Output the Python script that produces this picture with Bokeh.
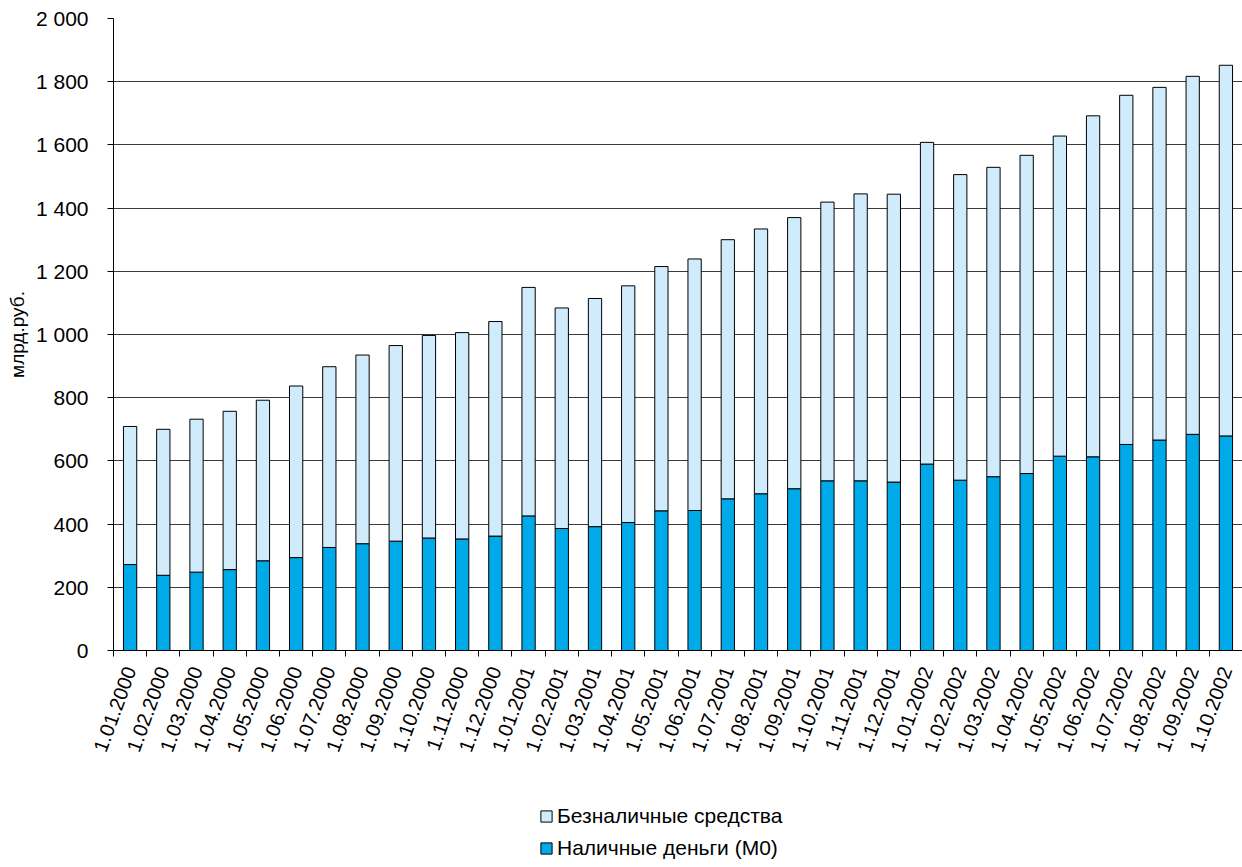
from bokeh.plotting import figure
from bokeh.models import ColumnDataSource, FixedTicker, Legend, LegendItem, Range1d
from bokeh.layouts import column
from bokeh.embed import file_html
from bokeh.resources import INLINE

dates = ["1.01.2000", "1.02.2000", "1.03.2000", "1.04.2000", "1.05.2000", "1.06.2000",
         "1.07.2000", "1.08.2000", "1.09.2000", "1.10.2000", "1.11.2000", "1.12.2000",
         "1.01.2001", "1.02.2001", "1.03.2001", "1.04.2001", "1.05.2001", "1.06.2001",
         "1.07.2001", "1.08.2001", "1.09.2001", "1.10.2001", "1.11.2001", "1.12.2001",
         "1.01.2002", "1.02.2002", "1.03.2002", "1.04.2002", "1.05.2002", "1.06.2002",
         "1.07.2002", "1.08.2002", "1.09.2002", "1.10.2002"]

m0 = [272, 238, 248, 256, 284, 294, 326, 338, 346, 356, 353, 362,
      426, 386, 392, 405, 442, 443, 480, 496, 512, 537, 537, 533,
      590, 539, 550, 560, 615, 613, 652, 666, 684, 679]

total = [709, 700, 732, 757, 792, 837, 898, 935, 965, 997, 1006, 1041,
         1149, 1084, 1114, 1154, 1215, 1239, 1300, 1334, 1370, 1419, 1445, 1444,
         1608, 1506, 1529, 1567, 1628, 1692, 1757, 1782, 1817, 1852]

noncash = [t - m for t, m in zip(total, m0)]

series_names = ["Безналичные средства", "Наличные деньги (M0)"]

y_ticks = list(range(0, 2001, 200))
y_labels = {t: (f"{t // 1000}\u00a0{t % 1000:03d}" if t >= 1000 else str(t)) for t in y_ticks}

FONT = "Liberation Sans"
LIGHT = "#CFEBFC"
DARK = "#00A9E8"
n = len(dates)
xs = [i + 0.5 for i in range(n)]

src = ColumnDataSource(dict(x=xs, m0=m0, total=total, zero=[0] * n))

p = figure(width=1242, height=790, output_backend="svg", toolbar_location=None,
           x_range=Range1d(0, n), y_range=Range1d(0, 2000),
           min_border_left=113, min_border_right=0, min_border_top=18, min_border_bottom=140)
p.outline_line_color = None
p.background_fill_color = "white"
p.border_fill_color = "white"

r_m0 = p.vbar(x="x", width=0.4, bottom="zero", top="m0", source=src,
              fill_color=DARK, line_color="black", line_width=1)
r_nc = p.vbar(x="x", width=0.4, bottom="m0", top="total", source=src,
              fill_color=LIGHT, line_color="black", line_width=1)

# x axis: labels at centers, ticks at category boundaries
p.xaxis.ticker = FixedTicker(ticks=xs, minor_ticks=list(range(n + 1)))
p.xaxis.major_label_overrides = {x: d for x, d in zip(xs, dates)}
p.xaxis.major_tick_line_color = None
p.xaxis.minor_tick_line_color = "black"
p.xaxis.minor_tick_out = 6
p.xaxis.minor_tick_in = 0
p.xaxis.axis_line_color = "black"
p.xaxis.major_label_orientation = 1.22
p.xaxis.major_label_text_font = FONT
p.xaxis.major_label_text_font_size = "20px"
p.xaxis.major_label_text_color = "black"
p.xaxis.major_label_standoff = 11

p.yaxis.ticker = FixedTicker(ticks=y_ticks)
p.yaxis.major_label_overrides = y_labels
p.yaxis.minor_tick_line_color = None
p.yaxis.major_tick_out = 6
p.yaxis.major_tick_in = 0
p.yaxis.major_tick_line_color = "black"
p.yaxis.axis_line_color = "black"
p.yaxis.major_label_text_font = FONT
p.yaxis.major_label_text_font_size = "21px"
p.yaxis.major_label_text_color = "black"
p.yaxis.major_label_standoff = 19
p.yaxis.axis_label = "млрд.руб."
p.yaxis.axis_label_text_font = FONT
p.yaxis.axis_label_text_font_size = "19px"
p.yaxis.axis_label_text_font_style = "normal"
p.yaxis.axis_label_text_color = "black"
p.yaxis.axis_label_standoff = 5

p.xgrid.grid_line_color = None
p.ygrid.grid_line_color = "#3a3a3a"
p.ygrid.grid_line_width = 1

# legend strip below the chart (its frame is aligned with the chart's frame)
p2 = figure(width=1242, height=77, output_backend="svg", toolbar_location=None,
            min_border=0, x_range=Range1d(0, 1), y_range=Range1d(0, 1))
p2.axis.visible = False
p2.grid.visible = False
p2.outline_line_color = None
p2.background_fill_color = "white"
p2.border_fill_color = "white"
# hidden proxies of the two series, used only to draw the legend swatches
l_nc = p2.vbar(x="x", width=0.4, bottom="m0", top="total", source=src,
               fill_color=LIGHT, line_color="black", line_width=1, visible=False)
l_m0 = p2.vbar(x="x", width=0.4, bottom="zero", top="m0", source=src,
               fill_color=DARK, line_color="black", line_width=1, visible=False)

legend = Legend(items=[LegendItem(label=series_names[0], renderers=[l_nc]),
                       LegendItem(label=series_names[1], renderers=[l_m0])],
                orientation="vertical", location=(426, 7))
legend.label_text_font = FONT
legend.label_text_font_size = "21px"
legend.label_text_color = "black"
legend.glyph_width = 14
legend.glyph_height = 14
legend.label_standoff = 4
legend.spacing = 8
legend.padding = 0
legend.margin = 0
legend.border_line_color = None
legend.background_fill_alpha = 0
p2.add_layout(legend, "center")

layout = column(p, p2, spacing=0)
open("out.html", "w").write(file_html(layout, INLINE))
